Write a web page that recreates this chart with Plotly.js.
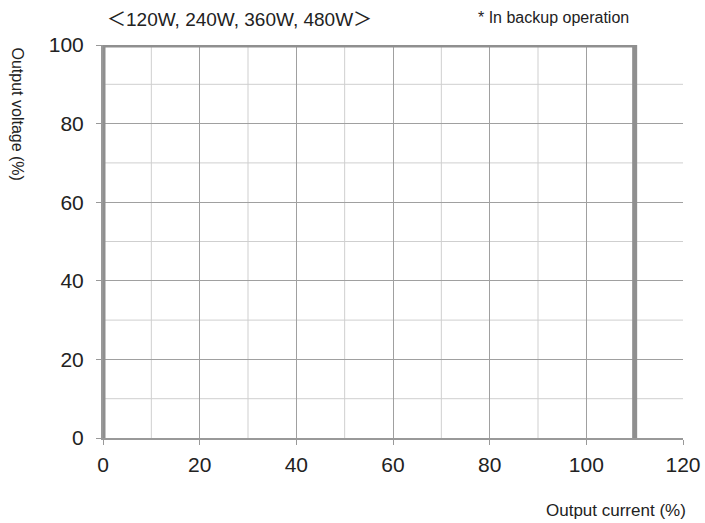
<!DOCTYPE html>
<html><head><meta charset="utf-8">
<script src="https://cdn.plot.ly/plotly-3.0.1.min.js"></script>
<style>body{margin:0;padding:0;background:#fff}#chart{width:705px;height:523px}</style>
</head><body><div id="chart"></div>
<script>
const currentPct = [0, 0, 110, 110];
const voltagePct = [0, 100, 100, 0];
const xTicks = [0, 20, 40, 60, 80, 100, 120];
const yTicks = [0, 20, 40, 60, 80, 100];
const minorX = [10, 30, 50, 70, 90, 110];
const minorY = [10, 30, 50, 70, 90];

const FONT = 'Liberation Sans, Arial, sans-serif';
const CJK = 'Noto Sans CJK JP';
const shapes = [];
minorX.forEach(v => shapes.push({type:'line', xref:'x', yref:'paper', x0:v, x1:v, y0:0, y1:1, line:{color:'#cfcfcf', width:1}, layer:'below'}));
minorY.forEach(v => shapes.push({type:'line', xref:'paper', yref:'y', x0:0, x1:1, y0:v, y1:v, line:{color:'#cfcfcf', width:1}, layer:'below'}));

const data = [{
  x: currentPct, y: voltagePct, type:'scatter', mode:'lines',
  line:{color:'#8f8f8f', width:5}, cliponaxis:false, hoverinfo:'skip'
}];
const layout = {
  width:705, height:523,
  margin:{l:103, r:22, t:45, b:85},
  paper_bgcolor:'#fff', plot_bgcolor:'#fff',
  showlegend:false,
  font:{family:FONT, color:'#222'},
  xaxis:{range:[0,120], tickvals:xTicks, showgrid:true, gridcolor:'#a0a0a0', gridwidth:1,
    zeroline:false, showline:true, linecolor:'#999', linewidth:2, mirror:false,
    ticks:'outside', ticklen:5, tickcolor:'#999', ticklabelstandoff:2, tickfont:{size:21, family:FONT, color:'#222'}},
  yaxis:{range:[0,100], tickvals:yTicks, showgrid:true, gridcolor:'#a0a0a0', gridwidth:1,
    zeroline:false, showline:true, linecolor:'#999', linewidth:2,
    ticks:'outside', ticklen:5, tickcolor:'#999', ticklabelstandoff:8, tickfont:{size:21, family:FONT, color:'#222'}},
  shapes: shapes,
  annotations:[
    {text:'<span style="font-family:' + CJK + '">\uFF1C</span>120W, 240W, 360W, 480W<span style="font-family:' + CJK + '">\uFF1E</span>', xref:'paper', yref:'paper', x:0.236, xanchor:'center', y:1, yshift:28, yanchor:'middle', showarrow:false, font:{size:19, family:FONT, color:'#222'}},
    {text:'* In backup operation', xref:'paper', yref:'paper', x:0.776, xanchor:'center', y:1, yshift:28, yanchor:'middle', showarrow:false, font:{size:16, family:FONT, color:'#222'}},
    {text:'Output current (%)', xref:'paper', yref:'paper', x:1.008, y:0, yshift:-72, xanchor:'right', yanchor:'middle', showarrow:false, font:{size:17, family:FONT, color:'#222'}},
    {text:'Output voltage (%)', xref:'paper', yref:'paper', x:0, xshift:-86, xanchor:'center', y:1, yanchor:'top', textangle:90, showarrow:false, font:{size:16, family:FONT, color:'#222'}}
  ]
};
Plotly.newPlot('chart', data, layout, {displayModeBar:false, staticPlot:true});
</script></body></html>
